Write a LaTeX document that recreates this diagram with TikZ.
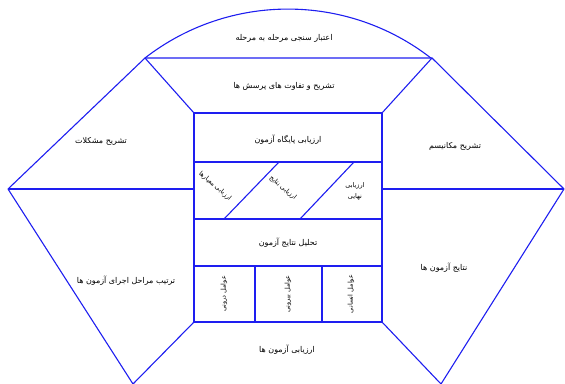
\documentclass[tikz,border=0pt]{standalone}
\usepackage{fontspec}
\newfontfamily\arabicfont[Script=Arabic]{DejaVu Sans}
\TeXXeTstate=1
\begin{document}
\begin{tikzpicture}[x=1pt,y=-1pt,
  edge/.style={draw={rgb,255:red,30;green,30;blue,240},line width=1.1pt},
  boxedge/.style={draw={rgb,255:red,30;green,30;blue,240},line width=1.6pt},
  lbl/.style={font=\arabicfont\fontsize{8}{9.5}\selectfont,text=black,align=center,inner sep=0pt},
  slbl/.style={font=\arabicfont\fontsize{6.5}{8}\selectfont,text=black,align=center,inner sep=0pt}]
\useasboundingbox (0,0) rectangle (565,383);
% key coordinates
\coordinate (L) at (8,189);
\coordinate (R) at (564,189);
\coordinate (TL) at (145,58);
\coordinate (TR) at (432,58);
\coordinate (BL) at (133,384);
\coordinate (BR) at (441,384);
\coordinate (b1) at (194,113);
\coordinate (b2) at (382,113);
\coordinate (b3) at (382,322);
\coordinate (b4) at (194,322);
\coordinate (ml) at (194,189);
\coordinate (mr) at (382,189);
% outer shape
\draw[edge] (TL) arc[start angle=232.2,end angle=307.8,radius=233.2];
\draw[edge] (L) -- (TL) -- (TR) -- (R);
\draw[edge] (L) -- (BL);
\draw[edge] (R) -- (BR);
\draw[edge] (TL) -- (b1);
\draw[edge] (TR) -- (b2);
\draw[edge] (b4) -- (BL);
\draw[edge] (b3) -- (BR);
\draw[edge] (L) -- (ml);
\draw[edge] (mr) -- (R);
% central box
\draw[boxedge] (b1) rectangle (b3);
\draw[edge] (194,162) -- (382,162);
\draw[boxedge] (194,219) -- (382,219);
\draw[edge] (194,266) -- (382,266);
\draw[edge] (224,219) -- (279,162);
\draw[edge] (300,219) -- (354,162);
\draw[edge] (255,266) -- (255,322);
\draw[edge] (322,266) -- (322,322);
% labels
\node[lbl] (t1) at (284,38) {\beginR اعتبار سنجی مرحله به مرحله\endR};
\node[lbl] (t2) at (284,86) {\beginR تشریح و تفاوت های پرسش ها\endR};
\node[lbl] (t3) at (288,140) {\beginR ارزیابی پایگاه آزمون\endR};
\node[slbl,rotate=-40] (t4) at (215,186) {\beginR ارزیابی معیارها\endR};
\node[slbl,rotate=-40] (t5) at (283,188) {\beginR ارزیابی نتایج\endR};
\node[slbl] (t6) at (355,191) {\beginR ارزیابی\endR\\[3pt]\beginR نهایی\endR};
\node[lbl] (t7) at (288,243) {\beginR تحلیل نتایج آزمون\endR};
\node[slbl,rotate=90] (t8) at (224,294) {\beginR عوامل درونی\endR};
\node[slbl,rotate=90] (t9) at (288,294) {\beginR عوامل بیرونی\endR};
\node[slbl,rotate=90] (t10) at (351,294) {\beginR عوامل انسانی\endR};
\node[lbl] (t11) at (287,350) {\beginR ارزیابی آزمون ها\endR};
\node[lbl] (t12) at (101,141) {\beginR تشریح مشکلات\endR};
\node[lbl] (t13) at (455,146) {\beginR تشریح مکانیسم\endR};
\node[lbl] (t14) at (126,281) {\beginR ترتیب مراحل اجرای آزمون ها\endR};
\node[lbl] (t15) at (444,268) {\beginR نتایج آزمون ها\endR};
\end{tikzpicture}
\end{document}
